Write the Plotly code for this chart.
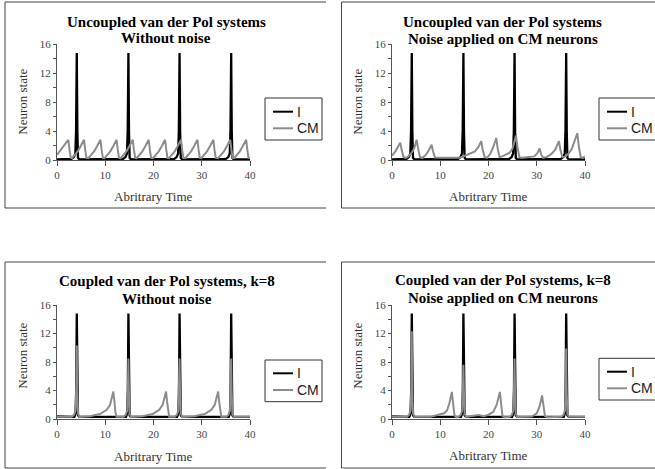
import plotly.graph_objects as go

W, H = 655, 469

# ---------------- data ----------------
# I neuron, uncoupled system (panels 1 and 2)
i_unc_t = [0, 3.0, 3.5, 3.8, 3.95, 4.1, 4.22, 4.35, 4.6,
           13.7, 14.2, 14.5, 14.65, 14.8, 14.92, 15.05, 15.3,
           24.3, 24.8, 25.1, 25.25, 25.4, 25.52, 25.65, 25.9,
           35.0, 35.5, 35.8, 35.95, 36.1, 36.22, 36.35, 36.6, 40]
i_unc_y = [0.1, 0.15, 0.4, 0.9, 4.0, 14.8, 4.0, 0.3, 0.1,
           0.15, 0.4, 0.9, 4.0, 14.8, 4.0, 0.3, 0.1,
           0.15, 0.4, 0.9, 4.0, 14.8, 4.0, 0.3, 0.1,
           0.15, 0.4, 0.9, 4.0, 14.8, 4.0, 0.3, 0.1, 0.1]

# CM neuron, uncoupled, no noise (panel 1)
cm_p1_t = [0.0, 0.6, 1.3, 1.95, 2.35, 2.6, 2.85,
           3.1, 3.6, 4.3, 4.9, 5.25, 5.6, 5.85, 6.1,
           6.5, 7.0, 7.7, 8.3, 8.65, 9.0, 9.25, 9.5,
           9.85, 10.35, 11.05, 11.65, 12.0, 12.35, 12.6, 12.85,
           13.2, 13.7, 14.4, 15.0, 15.35, 15.7, 15.95, 16.2,
           16.5, 17.0, 17.7, 18.3, 18.65, 19.0, 19.25, 19.5,
           19.9, 20.4, 21.1, 21.7, 22.05, 22.4, 22.65, 22.9,
           23.2, 23.7, 24.4, 25.0, 25.35, 25.7, 25.95, 26.2,
           26.6, 27.1, 27.8, 28.4, 28.75, 29.1, 29.35, 29.6,
           29.9, 30.4, 31.1, 31.7, 32.05, 32.4, 32.65, 32.9,
           33.4, 33.9, 34.6, 35.2, 35.55, 35.9, 36.15, 36.4,
           36.7, 37.2, 37.9, 38.5, 38.85, 39.2, 39.45, 39.7, 40.0]
cm_p1_y = [0.7, 1.2, 1.9, 2.4, 2.8, 1.4, 0.3,
           0.25, 0.6, 1.2, 1.9, 2.4, 2.8, 1.4, 0.3,
           0.25, 0.6, 1.2, 1.9, 2.4, 2.8, 1.4, 0.3,
           0.25, 0.6, 1.2, 1.9, 2.4, 2.8, 1.4, 0.3,
           0.25, 0.6, 1.2, 1.9, 2.4, 2.8, 1.4, 0.3,
           0.25, 0.6, 1.2, 1.9, 2.4, 2.8, 1.4, 0.3,
           0.25, 0.6, 1.2, 1.9, 2.4, 2.8, 1.4, 0.3,
           0.25, 0.6, 1.2, 1.9, 2.4, 2.8, 1.4, 0.3,
           0.25, 0.6, 1.2, 1.9, 2.4, 2.8, 1.4, 0.3,
           0.25, 0.6, 1.2, 1.9, 2.4, 2.8, 1.4, 0.3,
           0.25, 0.6, 1.2, 1.9, 2.4, 2.8, 1.4, 0.3,
           0.25, 0.6, 1.2, 1.9, 2.4, 2.8, 1.4, 0.3, 0.25]

# CM neuron, uncoupled, noise on CM (panel 2)
cm_p2_t = [0.0, 0.7, 1.3, 1.7, 2.0, 2.4, 2.9, 3.4, 3.8, 4.3, 4.7, 5.1, 5.4, 5.8,
           6.3, 7.0, 7.6, 8.2, 8.5, 8.9, 10.0, 12.0, 14.0, 14.6, 15.5, 16.5,
           17.2, 17.9, 18.5, 18.8, 19.2, 19.7, 20.4, 21.0, 21.6, 21.9, 22.3,
           22.8, 23.6, 24.4, 25.0, 25.7, 26.0, 26.4, 27.0, 28.5, 29.5, 30.1,
           30.6, 30.9, 31.3, 32.0, 33.0, 33.8, 34.6, 34.9, 35.3, 35.9, 36.6,
           37.3, 37.9, 38.4, 38.7, 39.1, 39.5, 40.0]
cm_p2_y = [0.6, 1.2, 1.9, 2.4, 1.4, 0.4, 0.3, 0.5, 0.8, 1.2, 1.8, 2.8, 1.6, 0.4,
           0.3, 0.7, 1.3, 2.1, 1.2, 0.35, 0.3, 0.3, 0.3, 0.45, 0.7, 1.0,
           1.2, 1.8, 2.6, 1.4, 0.4, 0.3, 0.9, 1.8, 3.05, 1.6, 0.4,
           0.5, 0.7, 1.0, 1.6, 3.4, 1.8, 0.4, 0.3, 0.4, 0.5, 0.9,
           1.6, 0.8, 0.3, 0.4, 0.8, 1.4, 2.6, 1.4, 0.4, 0.5, 0.9,
           1.6, 2.6, 3.7, 2.0, 0.4, 0.3, 0.5]

# I neuron, coupled system (panels 3 and 4)
i_cpl_t = [0, 3.6, 3.85, 3.98, 4.1, 4.22, 4.35, 4.6,
           14.3, 14.55, 14.68, 14.8, 14.92, 15.05, 15.3,
           24.9, 25.15, 25.28, 25.4, 25.52, 25.65, 25.9,
           35.6, 35.85, 35.98, 36.1, 36.22, 36.35, 36.6, 40]
i_cpl_y = [0.35, 0.3, 0.8, 4.0, 14.8, 4.0, 0.5, 0.3,
           0.3, 0.8, 4.0, 14.8, 4.0, 0.5, 0.3,
           0.3, 0.8, 4.0, 14.8, 4.0, 0.5, 0.3,
           0.3, 0.8, 4.0, 14.8, 4.0, 0.5, 0.3, 0.3]

# CM neuron, coupled k=8, no noise (panel 3)
cm_p3_t = [0, 3.1, 3.55, 3.85, 4.0, 4.1, 4.2, 4.35, 4.65,
           6.8, 8.9, 10.3, 11.0, 11.4, 11.67, 11.9, 12.1, 12.35,
           13.8, 14.25, 14.55, 14.7, 14.8, 14.9, 15.05, 15.35,
           17.7, 19.8, 21.2, 21.9, 22.3, 22.6, 22.8, 23.0, 23.25,
           24.4, 24.85, 25.15, 25.3, 25.4, 25.5, 25.65, 25.95,
           28.5, 30.6, 32.0, 32.7, 33.1, 33.4, 33.6, 33.8, 34.05,
           35.1, 35.55, 35.85, 36.0, 36.1, 36.2, 36.35, 36.65, 40]
cm_p3_y = [0.3, 0.3, 0.6, 1.2, 4.5, 10.3, 4.0, 0.8, 0.3,
           0.4, 0.7, 1.3, 2.0, 3.0, 3.85, 2.5, 1.0, 0.3,
           0.3, 0.6, 1.2, 4.5, 8.5, 4.0, 0.8, 0.3,
           0.4, 0.7, 1.3, 2.0, 3.0, 3.85, 2.5, 1.0, 0.3,
           0.3, 0.6, 1.2, 4.5, 8.5, 4.0, 0.8, 0.3,
           0.4, 0.7, 1.3, 2.0, 3.0, 3.85, 2.5, 1.0, 0.3,
           0.3, 0.6, 1.2, 4.5, 8.5, 4.0, 0.8, 0.3, 0.3]

# CM neuron, coupled k=8, noise on CM (panel 4)
cm_p4_t = [0, 3.1, 3.55, 3.85, 4.0, 4.1, 4.2, 4.35, 4.65,
           8.0, 9.0, 10.0, 10.8, 11.4, 11.9, 12.4, 12.7, 12.95, 13.3,
           13.8, 14.25, 14.55, 14.7, 14.8, 14.9, 15.05, 15.35,
           17.0, 18.0, 19.0, 20.0, 21.0, 21.7, 22.35, 22.6, 22.9, 23.3,
           24.4, 24.85, 25.15, 25.3, 25.4, 25.5, 25.65, 25.95,
           29.0, 30.0, 30.6, 31.1, 31.4, 31.7, 32.2,
           35.1, 35.55, 35.85, 36.0, 36.1, 36.2, 36.35, 36.65, 40]
cm_p4_y = [0.3, 0.3, 0.6, 1.2, 4.5, 12.3, 4.0, 0.8, 0.3,
           0.3, 0.5, 0.7, 0.8, 1.2, 2.2, 3.8, 2.0, 0.5, 0.25,
           0.3, 0.6, 1.2, 4.5, 7.6, 4.0, 0.8, 0.3,
           0.4, 0.55, 0.4, 0.6, 1.0, 2.0, 3.8, 2.0, 0.4, 0.25,
           0.3, 0.6, 1.2, 4.5, 8.5, 4.0, 0.8, 0.3,
           0.35, 0.8, 1.8, 3.3, 1.5, 0.4, 0.25,
           0.3, 0.6, 1.2, 4.5, 9.9, 4.0, 0.8, 0.3, 0.3]

titles = [("Uncoupled van der Pol systems", "Without noise"),
          ("Uncoupled van der Pol systems", "Noise applied on CM neurons"),
          ("Coupled van der Pol systems, k=8", "Without noise"),
          ("Coupled van der Pol systems, k=8", "Noise applied on CM neurons")]
series_names = ["I", "CM"]
x_ticks = [0, 10, 20, 30, 40]
y_ticks = [0, 4, 8, 12, 16]
x_title = "Abritrary Time"
y_title = "Neuron state"

# ---------------- layout geometry (pixels) ----------------
def px(x):
    return x / W

def py(y):
    return 1 - y / H

panels = [
    dict(box=(57, 250, 44.3, 160), tx=166, tys=(21.7, 38.3), ytx=21.7, yty=102, xty=196.7,
         leg=(265, 322, 98, 140), legy=(111.7, 128.3)),
    dict(box=(392, 585, 44.3, 160), tx=502.5, tys=(21.7, 39.0), ytx=356.7, yty=102, xty=196.7,
         leg=(599, 656, 98, 140), legy=(111.7, 128.3)),
    dict(box=(57, 250, 305, 419), tx=166.7, tys=(280.5, 298.5), ytx=21.7, yty=356, xty=456,
         leg=(265, 322, 360, 401.7), legy=(373.3, 390)),
    dict(box=(392, 585, 305, 419), tx=502.5, tys=(280, 297.7), ytx=356.7, yty=356, xty=455,
         leg=(599, 656, 358.3, 400), legy=(371.7, 388.3)),
]
data = [(i_unc_t, i_unc_y, cm_p1_t, cm_p1_y),
        (i_unc_t, i_unc_y, cm_p2_t, cm_p2_y),
        (i_cpl_t, i_cpl_y, cm_p3_t, cm_p3_y),
        (i_cpl_t, i_cpl_y, cm_p4_t, cm_p4_y)]

SERIF = "Liberation Serif"
SANS = "Liberation Sans"
AXC = "#555555"
GRAY = "#8c8c8c"
series_colors = ["black", GRAY]

fig = go.Figure()
layout = dict(width=W, height=H, autosize=False,
              margin=dict(l=0, r=0, t=0, b=0, autoexpand=False),
              paper_bgcolor="white", plot_bgcolor="white",
              showlegend=False)
annotations = []
shapes = []

for k, (p, d) in enumerate(zip(panels, data), start=1):
    sfx = "" if k == 1 else str(k)
    x0, x1, yt, yb = p["box"]
    it, iy, ct, cy = d
    fig.add_trace(go.Scatter(x=it, y=iy, mode="lines", name=series_names[0],
                             line=dict(color=series_colors[0], width=2.3),
                             xaxis="x" + sfx, yaxis="y" + sfx))
    fig.add_trace(go.Scatter(x=ct, y=cy, mode="lines", name=series_names[1],
                             line=dict(color=series_colors[1], width=2),
                             xaxis="x" + sfx, yaxis="y" + sfx))
    layout["xaxis" + sfx] = dict(
        domain=[px(x0), px(x1)], anchor="y" + sfx, range=[0, 40],
        tickvals=x_ticks, ticks="outside", ticklen=5, tickcolor=AXC, tickwidth=1,
        showline=True, linecolor=AXC, linewidth=1, showgrid=False, zeroline=False,
        tickfont=dict(family=SERIF, size=11, color="#444444"), fixedrange=True)
    layout["yaxis" + sfx] = dict(
        domain=[py(yb), py(yt)], anchor="x" + sfx, range=[0, 16],
        tickvals=y_ticks, ticks="outside", ticklen=3, tickcolor=AXC, tickwidth=1,
        minor=dict(dtick=2, ticks="outside", ticklen=3, tickcolor=AXC, tickwidth=1, showgrid=False),
        showline=True, linecolor=AXC, linewidth=1, showgrid=False, zeroline=False,
        tickfont=dict(family=SERIF, size=11, color="#444444"), fixedrange=True)
    for line_txt, ty in zip(titles[k - 1], p["tys"]):
        annotations.append(dict(text=f"<b>{line_txt}</b>", x=px(p["tx"]), y=py(ty),
                                xref="paper", yref="paper", showarrow=False,
                                xanchor="center", yanchor="middle",
                                font=dict(family=SERIF, size=15, color="black")))
    annotations.append(dict(text=y_title, x=px(p["ytx"]), y=py(p["yty"]), textangle=-90,
                            xref="paper", yref="paper", showarrow=False,
                            xanchor="center", yanchor="middle",
                            font=dict(family=SERIF, size=13, color="#333333")))
    annotations.append(dict(text=x_title, x=px((x0 + x1) / 2), y=py(p["xty"]),
                            xref="paper", yref="paper", showarrow=False,
                            xanchor="center", yanchor="middle",
                            font=dict(family=SERIF, size=13, color="#333333")))
    # legend box
    lx0, lx1, ly0, ly1 = p["leg"]
    shapes.append(dict(type="rect", xref="paper", yref="paper",
                       x0=px(lx0), x1=px(lx1), y0=py(ly1), y1=py(ly0),
                       line=dict(color="#333333", width=1), fillcolor="white", layer="above"))
    for name, col, ly in zip(series_names, series_colors, p["legy"]):
        shapes.append(dict(type="line", xref="paper", yref="paper",
                           x0=px(lx0 + 8), x1=px(lx0 + 28), y0=py(ly), y1=py(ly),
                           line=dict(color=col, width=2), layer="above"))
        annotations.append(dict(text=name, x=px(lx0 + 30), y=py(ly),
                                xref="paper", yref="paper", showarrow=False,
                                xanchor="left", yanchor="middle",
                                font=dict(family=SANS, size=14, color="#222222")))

# panel frames (left, top and bottom edges)
frames = [(5, 326, 2, 208), (341.5, 656, 2, 208), (5, 326, 262, 468), (341.5, 656, 262, 468)]
for fx0, fx1, fy0, fy1 in frames:
    for (ax0, ay0, ax1, ay1) in [(fx0, fy0, fx0, fy1), (fx0, fy0, fx1, fy0), (fx0, fy1, fx1, fy1)]:
        shapes.append(dict(type="line", xref="paper", yref="paper",
                           x0=px(ax0), y0=py(ay0), x1=px(ax1), y1=py(ay1),
                           line=dict(color="#444444", width=1)))

layout["annotations"] = annotations
layout["shapes"] = shapes
fig.update_layout(**layout)
fig.write_html("out.html", config={"displayModeBar": False, "staticPlot": True},
               post_script="document.body.style.margin='0px';document.body.style.overflow='hidden';")
